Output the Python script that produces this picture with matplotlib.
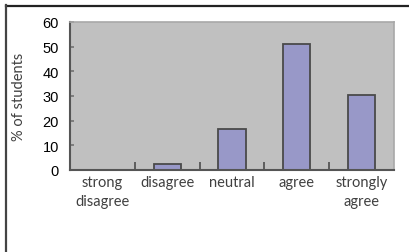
import numpy as np
import matplotlib.pyplot as plt
from matplotlib.lines import Line2D

# Данные
categories = ['strong\ndisagree', 'disagree', 'neutral', 'agree', 'strongly\nagree']
percent = [0, 2.6, 16.5, 51, 30.5]
yticks = [0, 10, 20, 30, 40, 50, 60]

fig = plt.figure(figsize=(4.10, 2.53), dpi=100)
ax = fig.add_axes([70 / 410, 1 - 171 / 253, 324 / 410, 148 / 253])

x = np.arange(len(categories))
ax.bar(x, percent, width=0.42, color='#9898c8', edgecolor='#4a4a4a', linewidth=1.3)

ax.set_facecolor('#c0c0c0')
ax.set_xlim(-0.5, len(categories) - 0.5)
ax.set_ylim(0, 60)
ax.set_yticks(yticks)
ax.set_yticklabels([str(v) for v in yticks], fontsize=10.5, family='Liberation Sans')

# деления между категориями
ax.set_xticks(np.arange(len(categories) - 1) + 0.5)
ax.set_xticklabels([])
ax.tick_params(axis='x', direction='in', length=6, width=1.3, color='#555555')
ax.tick_params(axis='y', direction='in', length=3, width=1.3, color='#777777', pad=8)
for i, c in enumerate(categories):
    ax.text(i, -2.2, c, ha='center', va='top', fontsize=10.5, family='Lato',
            color='#404040', linespacing=1.45)

for side in ['left', 'bottom']:
    ax.spines[side].set_color('#555555')
    ax.spines[side].set_linewidth(1.5)
for side in ['top', 'right']:
    ax.spines[side].set_color('#a8a8a8')
    ax.spines[side].set_linewidth(1.2)

ax.set_ylabel('% of students', fontsize=10.5, family='Lato', color='#404040', labelpad=12)

# внешняя рамка
fig.add_artist(Line2D([6 / 410, 1], [1 - 6.5 / 253, 1 - 6.5 / 253], color='#222222', linewidth=1.6))
fig.add_artist(Line2D([6.5 / 410, 6.5 / 410], [0, 1 - 6 / 253], color='#444444', linewidth=1.6))

fig.savefig('out.png', dpi=100)
